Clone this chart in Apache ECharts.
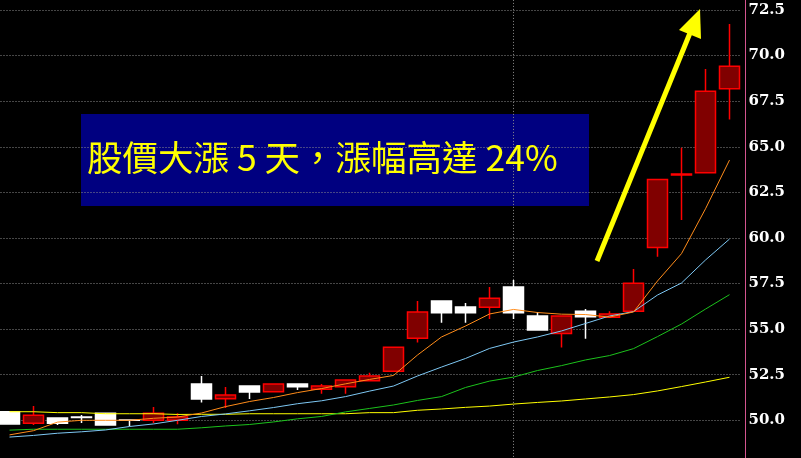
<!DOCTYPE html>
<html>
<head>
<meta charset="utf-8">
<script src="https://cdn.jsdelivr.net/npm/echarts@6/dist/echarts.min.js"></script>
<style>
  html, body { margin: 0; padding: 0; background: #000; }
  #chart { width: 801px; height: 458px; }
</style>
</head>
<body>
<div id="chart"></div>
<script>
// trading days (axis is hidden in the picture)
const days = ['D1', 'D2', 'D3', 'D4', 'D5', 'D6', 'D7', 'D8', 'D9', 'D10',
  'D11', 'D12', 'D13', 'D14', 'D15', 'D16', 'D17', 'D18', 'D19', 'D20',
  'D21', 'D22', 'D23', 'D24', 'D25', 'D26', 'D27', 'D28', 'D29', 'D30', 'D31'];

// open, close, low, high
const candles = [
  [50.47, 49.80, 49.80, 50.47],
  [49.84, 50.28, 49.74, 50.79],
  [50.13, 49.84, 49.74, 50.13],
  [50.18, 50.16, 49.85, 50.29],
  [50.38, 49.74, 49.74, 50.38],
  [50.01, 50.00, 49.68, 50.01],
  [50.00, 50.38, 49.85, 50.73],
  [50.00, 50.18, 49.78, 50.39],
  [51.99, 51.17, 50.97, 52.43],
  [51.18, 51.39, 50.67, 51.83],
  [51.88, 51.55, 51.17, 51.88],
  [51.57, 51.99, 51.57, 51.99],
  [51.99, 51.84, 51.66, 51.99],
  [51.70, 51.88, 51.46, 51.99],
  [51.84, 52.21, 51.46, 52.21],
  [52.17, 52.43, 52.17, 52.61],
  [52.69, 54.00, 52.69, 54.00],
  [54.50, 55.94, 54.26, 56.54],
  [56.54, 55.90, 55.35, 56.54],
  [56.21, 55.90, 55.35, 56.43],
  [56.20, 56.69, 55.56, 57.31],
  [57.31, 55.90, 55.56, 57.69],
  [55.72, 54.95, 54.95, 55.94],
  [54.76, 55.72, 53.99, 55.72],
  [55.98, 55.68, 54.47, 56.10],
  [55.65, 55.83, 55.61, 55.98],
  [55.98, 57.51, 55.98, 58.30],
  [59.48, 63.21, 58.97, 63.21],
  [63.45, 63.50, 60.98, 64.95],
  [63.57, 68.05, 63.57, 69.26],
  [68.18, 69.41, 66.50, 71.73]
];

const ma5 = [49.20, 49.43, 49.90, 50.00, 50.00, 50.00, 50.11, 50.18, 50.40, 50.75,
  51.03, 51.25, 51.52, 51.74, 52.00, 52.24, 52.46, 53.58, 54.57, 55.17,
  55.83, 56.08, 55.91, 55.82, 55.80, 55.66, 55.94, 57.64, 59.14, 61.60, 64.27];
const ma10 = [49.08, 49.17, 49.29, 49.37, 49.47, 49.66, 49.80, 50.00, 50.21, 50.35,
  50.52, 50.70, 50.91, 51.07, 51.30, 51.60, 51.88, 52.43, 52.92, 53.39,
  53.94, 54.29, 54.57, 54.90, 55.31, 55.72, 55.96, 56.87, 57.53, 58.79, 59.94];
const ma20 = [49.46, 49.51, 49.51, 49.51, 49.51, 49.51, 49.51, 49.51, 49.59, 49.69,
  49.77, 49.91, 50.08, 50.21, 50.46, 50.65, 50.84, 51.09, 51.30, 51.80,
  52.15, 52.37, 52.73, 53.00, 53.31, 53.55, 53.93, 54.59, 55.28, 56.10, 56.89];
const ma60 = [50.47, 50.47, 50.42, 50.42, 50.36, 50.36, 50.36, 50.32, 50.33, 50.33,
  50.36, 50.36, 50.36, 50.36, 50.36, 50.42, 50.42, 50.55, 50.62, 50.71,
  50.78, 50.89, 50.98, 51.06, 51.17, 51.28, 51.41, 51.61, 51.85, 52.10, 52.36];

const note = '股價大漲 5 天，漲幅高達 24%';
const markDay = 'D22';

const chart = echarts.init(document.getElementById('chart'));

function maLine(data, color) {
  return {
    type: 'line',
    data: data,
    symbol: 'none',
    silent: true,
    lineStyle: {color: color, width: 1},
    z: 3
  };
}

chart.setOption({
  backgroundColor: '#000000',
  animation: false,
  grid: {
    left: -2.5, right: 59.5, top: -35.59, bottom: -7.89,
    containLabel: false,
    outerBoundsMode: 'none'
  },
  xAxis: {
    type: 'category',
    data: days,
    boundaryGap: true,
    show: false
  },
  yAxis: {
    type: 'value',
    position: 'right',
    offset: 4,
    min: 47.5,
    max: 75,
    interval: 2.5,
    axisLine: {show: true, lineStyle: {color: '#d4558f', width: 1}},
    axisTick: {show: false},
    axisLabel: {
      color: '#ffffff',
      fontFamily: 'DejaVu Serif',
      fontWeight: 'bold',
      fontSize: 15,
      margin: 3,
      formatter: v => v.toFixed(1)
    },
    splitLine: {lineStyle: {color: '#8c8c8c', width: 1, type: [1, 2]}}
  },
  series: [
    {
      type: 'candlestick',
      data: candles,
      barWidth: 20,
      itemStyle: {
        color: '#800000',
        borderColor: '#ff0000',
        color0: '#ffffff',
        borderColor0: '#ffffff',
        borderWidth: 1.5
      },
      markLine: {
        silent: true,
        z: 1,
        symbol: ['none', 'none'],
        label: {show: false},
        lineStyle: {color: '#8c8c8c', width: 1, type: [1, 2]},
        data: [{xAxis: markDay}]
      }
    },
    maLine(ma60, '#ffff00'),
    maLine(ma20, '#1cc21c'),
    maLine(ma10, '#7ec8f4'),
    maLine(ma5, '#ff8c1a')
  ],
  graphic: [
    {
      type: 'rect',
      z: -1,
      shape: {x: 81, y: 114, width: 508, height: 92},
      style: {fill: '#000080'}
    },
    {
      type: 'text',
      z: 100,
      x: 87,
      y: 158,
      style: {
        text: note,
        fill: '#ffff00',
        font: '35.5px "Noto Sans CJK TC"',
        verticalAlign: 'middle'
      }
    },
    {
      type: 'line',
      z: 100,
      shape: {x1: 597, y1: 261, x2: 690, y2: 33},
      style: {stroke: '#ffff00', lineWidth: 5}
    },
    {
      type: 'polygon',
      z: 100,
      shape: {points: [[700, 9], [679, 30], [701, 39]]},
      style: {fill: '#ffff00'}
    }
  ]
});
</script>
</body>
</html>
